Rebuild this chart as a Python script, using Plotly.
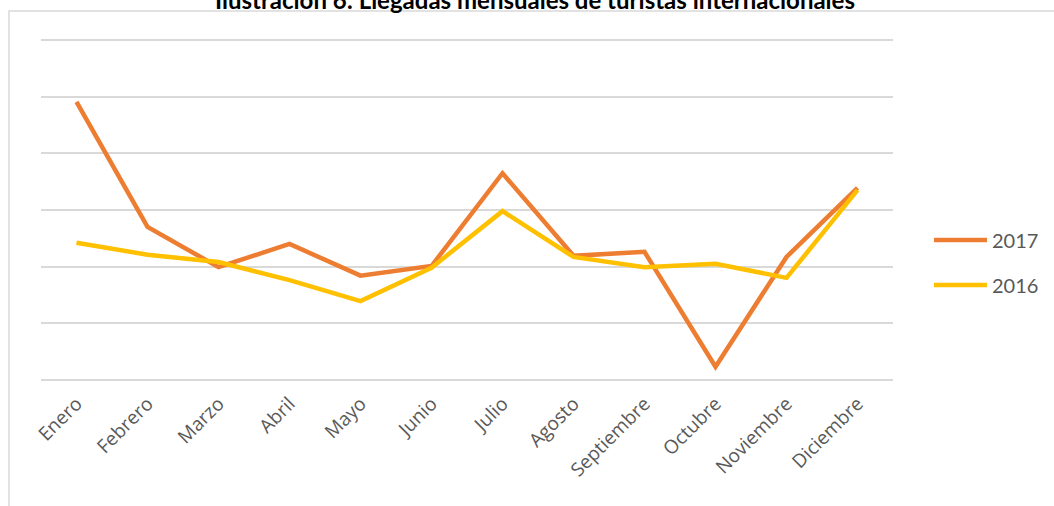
import plotly.graph_objects as go

meses = ["Enero", "Febrero", "Marzo", "Abril", "Mayo", "Junio", "Julio",
         "Agosto", "Septiembre", "Octubre", "Noviembre", "Diciembre"]
llegadas_2017 = [491, 270, 199, 240, 184, 201, 365, 219, 226, 23, 217, 339]
llegadas_2016 = [242, 221, 208, 176, 139, 198, 298, 217, 199, 205, 180, 335]
series = [("2017", llegadas_2017, "#ED7D31"), ("2016", llegadas_2016, "#FFC000")]

L, R, T, B = 41, 161, 38, 124
W = 1054 - L - R
H = 506 - T - B


def px(x):
    return (x - L) / W


def py(y):
    return (506 - B - y) / H


fig = go.Figure()
for name, vals, color in series:
    fig.add_trace(go.Scatter(x=meses, y=vals, mode="lines", name=name,
                             line=dict(color=color, width=4.5), showlegend=False))

# frame around the chart
fig.add_shape(type="rect", xref="paper", yref="paper", x0=px(9), x1=1.3, y0=-0.6,
              y1=py(11), line=dict(color="#d9d9d9", width=1.5), layer="below")

# manual legend
for i, (name, vals, color) in enumerate(series):
    yp = py(240 + 45 * i)
    fig.add_shape(type="line", xref="paper", yref="paper",
                  x0=px(934), x1=px(987), y0=yp, y1=yp,
                  line=dict(color=color, width=4.5))
    fig.add_annotation(xref="paper", yref="paper", x=px(990), y=yp,
                       text=name, showarrow=False, xanchor="left", yanchor="middle",
                       font=dict(family="Lato, Liberation Sans", size=20, color="#595959"))

fig.update_layout(
    width=1054, height=506,
    margin=dict(l=L, r=R, t=T, b=B),
    paper_bgcolor="white", plot_bgcolor="white",
    title=dict(text="<b>Ilustración 6: Llegadas mensuales de turistas internacionales</b>",
               x=535 / 1054, xanchor="center", y=(506 - 9) / 506, yanchor="bottom",
               font=dict(family="Lato, Liberation Sans", size=24, color="black")),
    showlegend=False,
    xaxis=dict(type="category", range=[-0.5, 11.5], showgrid=False, zeroline=False,
               showline=False, ticks="", tickangle=-45, ticklabelstandoff=6,
               tickfont=dict(family="Open Sans", size=19, color="#595959")),
    yaxis=dict(range=[-4, 604], dtick=100, showgrid=True, gridcolor="#d9d9d9", gridwidth=1.5,
               zeroline=False, showticklabels=False, showline=False),
)

fig.write_html("out.html", config={"displayModeBar": False},
               post_script="document.body.style.margin='0px';")
